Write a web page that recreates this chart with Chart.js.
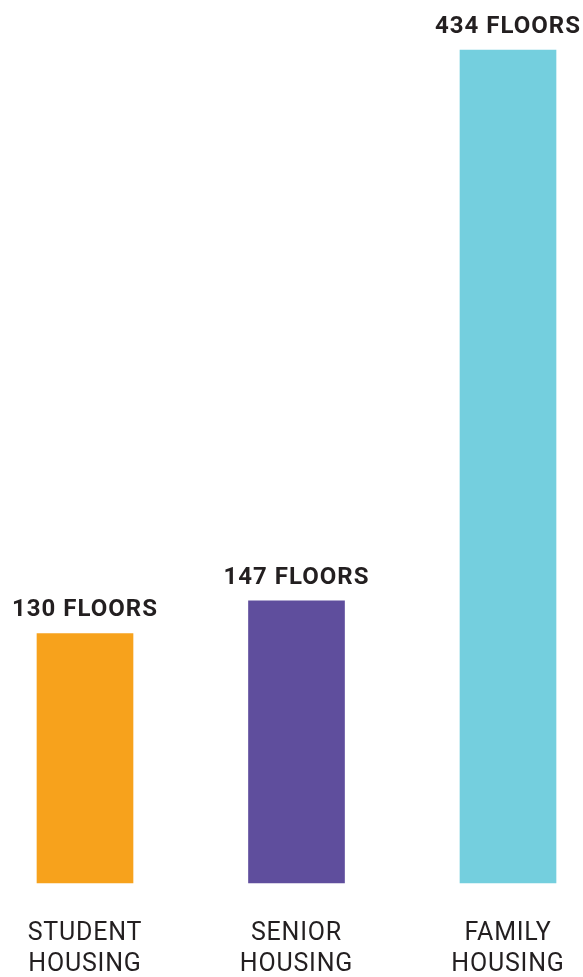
<!DOCTYPE html>
<html>
<head>
<meta charset="utf-8">
<script src="https://cdn.jsdelivr.net/npm/chart.js@4/dist/chart.umd.min.js"></script>
<style>
  html, body { margin: 0; padding: 0; background: #fff; }
  canvas { display: block; }
</style>
</head>
<body>
<canvas id="floorsChart" width="583" height="977"></canvas>
<script>
  const categories = [["STUDENT", "HOUSING"], ["SENIOR", "HOUSING"], ["FAMILY", "HOUSING"]];
  const floors = [130, 147, 434];
  const barColors = ["#F7A21C", "#5F4E9D", "#74CFDE"];
  const valueSuffix = " FLOORS";

  // a little tracking for the category labels
  const tracking = {
    id: "tracking",
    beforeInit(chart) { chart.ctx.letterSpacing = "0.8px"; },
    beforeUpdate(chart) { chart.ctx.letterSpacing = "0.8px"; }
  };

  // value labels above each bar
  const valueLabels = {
    id: "valueLabels",
    afterDatasetsDraw(chart) {
      const ctx = chart.ctx;
      const meta = chart.getDatasetMeta(0);
      ctx.save();
      ctx.font = "bold 24px Roboto, 'Noto Sans', sans-serif";
      ctx.letterSpacing = "1px";
      ctx.fillStyle = "#231F20";
      ctx.textAlign = "center";
      ctx.textBaseline = "alphabetic";
      meta.data.forEach((bar, i) => {
        ctx.fillText(floors[i] + valueSuffix, bar.x, bar.y - 17);
      });
      ctx.restore();
    }
  };

  const ctx = document.getElementById("floorsChart").getContext("2d");
  new Chart(ctx, {
    type: "bar",
    data: {
      labels: categories,
      datasets: [{
        data: floors,
        backgroundColor: barColors,
        barThickness: 96,
        clip: false
      }]
    },
    options: {
      responsive: false,
      animation: false,
      layout: { padding: { left: 85, right: 75, top: 50, bottom: 0 } },
      plugins: { legend: { display: false }, tooltip: { enabled: false } },
      scales: {
        x: {
          offset: false,
          grid: { display: false },
          border: { display: false },
          afterFit(scale) {
            scale.height = 94;
            scale.paddingLeft = 0;
            scale.paddingRight = 0;
          },
          ticks: {
            padding: 27,
            color: "#231F20",
            maxRotation: 0,
            autoSkip: false,
            font: { family: "Roboto, 'Noto Sans', sans-serif", size: 25, lineHeight: 1.25 }
          }
        },
        y: {
          display: false,
          min: 0,
          max: 434
        }
      }
    },
    plugins: [tracking, valueLabels]
  });
</script>
</body>
</html>
